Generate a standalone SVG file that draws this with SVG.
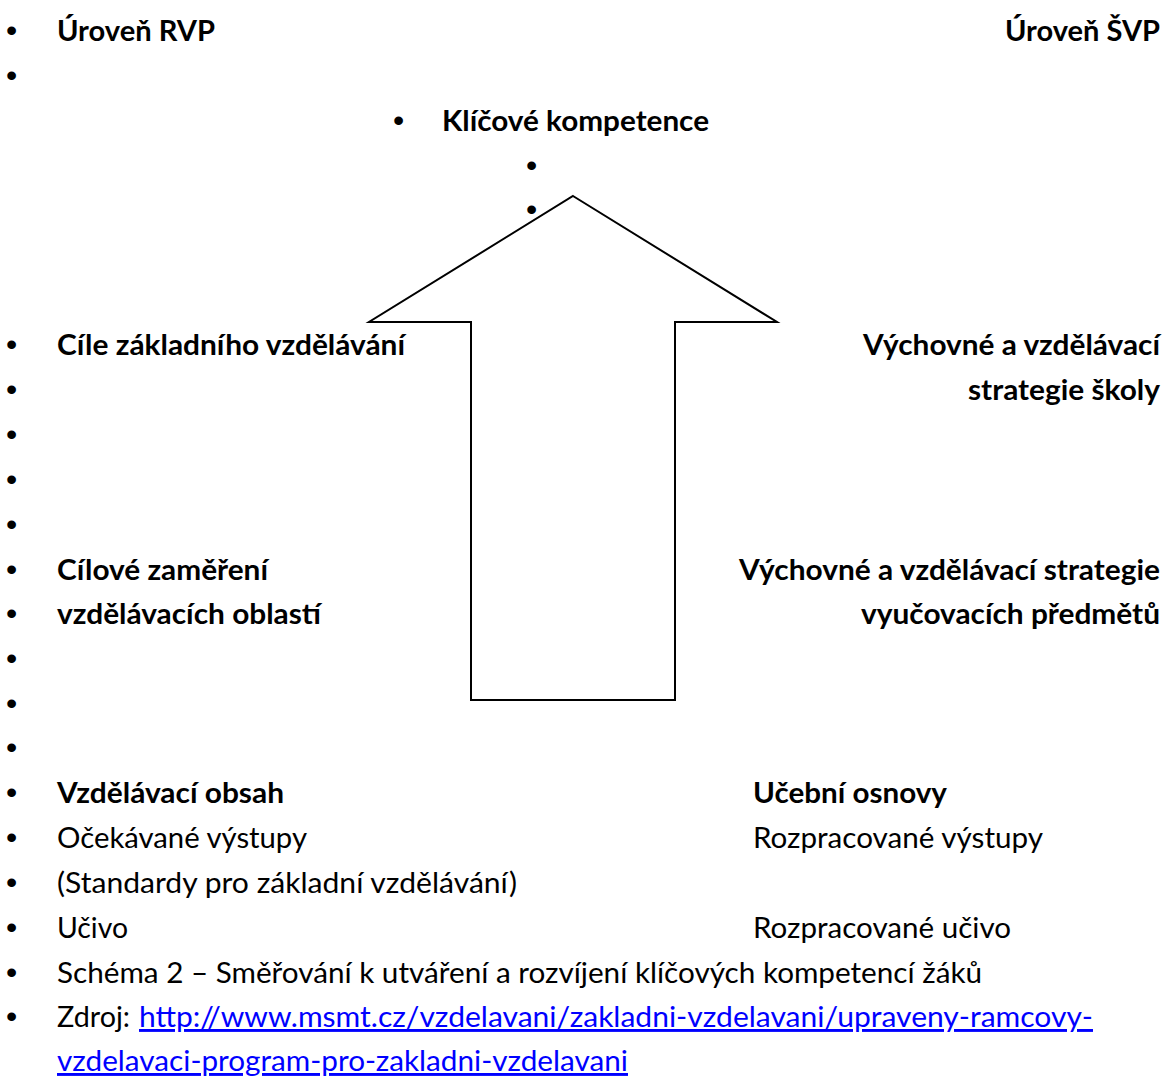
<svg xmlns="http://www.w3.org/2000/svg" width="1165" height="1076" viewBox="0 0 1165 1076">
<style>
text{font-family:Lato,"Open Sans","Liberation Sans",sans-serif;font-size:29px;fill:#000}
.b{font-weight:bold}
.r{text-anchor:end}
.bu{font-family:"Liberation Sans",Arial,sans-serif;font-size:32px}
.lk{fill:#0000FF;text-decoration:underline}
.arrow{fill:#fff;stroke:#000;stroke-width:2;stroke-linejoin:miter}
</style>
<rect width="1165" height="1076" fill="#fff"/>
<g id="connectors">
<polygon class="arrow" points="573,196 777,322 675,322 675,700 471,700 471,322 369,322"/>
</g>
<g id="bullets">
<text class="bu" x="6" y="41">•</text>
<text class="bu" x="6" y="86">•</text>
<text class="bu" x="393" y="131">•</text>
<text class="bu" x="526" y="176">•</text>
<text class="bu" x="526" y="220">•</text>
<text class="bu" x="6" y="355">•</text>
<text class="bu" x="6" y="400">•</text>
<text class="bu" x="6" y="445">•</text>
<text class="bu" x="6" y="490">•</text>
<text class="bu" x="6" y="535">•</text>
<text class="bu" x="6" y="580">•</text>
<text class="bu" x="6" y="624">•</text>
<text class="bu" x="6" y="669">•</text>
<text class="bu" x="6" y="714">•</text>
<text class="bu" x="6" y="758">•</text>
<text class="bu" x="6" y="803">•</text>
<text class="bu" x="6" y="848">•</text>
<text class="bu" x="6" y="893">•</text>
<text class="bu" x="6" y="938">•</text>
<text class="bu" x="6" y="983">•</text>
<text class="bu" x="6" y="1027">•</text>
</g>
<g id="uroven-rvp"><text class="b" x="57" y="41" textLength="158" lengthAdjust="spacingAndGlyphs">Úroveň RVP</text></g>
<g id="uroven-svp"><text class="b r" x="1160" y="41" textLength="155" lengthAdjust="spacingAndGlyphs">Úroveň ŠVP</text></g>
<g id="klicove-kompetence"><text class="b" x="442" y="131" textLength="267" lengthAdjust="spacingAndGlyphs">Klíčové kompetence</text></g>
<g id="cile-zakladniho"><text class="b" x="57" y="355" textLength="348" lengthAdjust="spacingAndGlyphs">Cíle základního vzdělávání</text></g>
<g id="strategie-skoly">
<text class="b r" x="1160" y="355" textLength="297" lengthAdjust="spacingAndGlyphs">Výchovné a vzdělávací</text>
<text class="b r" x="1160" y="400" textLength="192" lengthAdjust="spacingAndGlyphs">strategie školy</text>
</g>
<g id="cilove-zamereni">
<text class="b" x="57" y="580" textLength="211" lengthAdjust="spacingAndGlyphs">Cílové zaměření</text>
<text class="b" x="57" y="624" textLength="264" lengthAdjust="spacingAndGlyphs">vzdělávacích oblastí</text>
</g>
<g id="strategie-predmetu">
<text class="b r" x="1160" y="580" textLength="421" lengthAdjust="spacingAndGlyphs">Výchovné a vzdělávací strategie</text>
<text class="b r" x="1160" y="624" textLength="299" lengthAdjust="spacingAndGlyphs">vyučovacích předmětů</text>
</g>
<g id="vzdelavaci-obsah">
<text class="b" x="57" y="803" textLength="227" lengthAdjust="spacingAndGlyphs">Vzdělávací obsah</text>
<text x="57" y="848" textLength="250" lengthAdjust="spacingAndGlyphs">Očekávané výstupy</text>
<text x="57" y="893" textLength="460" lengthAdjust="spacingAndGlyphs">(Standardy pro základní vzdělávání)</text>
<text x="57" y="938" textLength="71" lengthAdjust="spacingAndGlyphs">Učivo</text>
</g>
<g id="ucebni-osnovy">
<text class="b" x="753" y="803" textLength="194" lengthAdjust="spacingAndGlyphs">Učební osnovy</text>
<text x="753" y="848" textLength="290" lengthAdjust="spacingAndGlyphs">Rozpracované výstupy</text>
<text x="753" y="938" textLength="258" lengthAdjust="spacingAndGlyphs">Rozpracované učivo</text>
</g>
<g id="caption">
<text x="57" y="983" textLength="925" lengthAdjust="spacingAndGlyphs">Schéma 2 – Směřování k utváření a rozvíjení klíčových kompetencí žáků</text>
<text x="57" y="1027" textLength="73" lengthAdjust="spacingAndGlyphs">Zdroj:</text>
<text class="lk" x="139" y="1027" textLength="954" lengthAdjust="spacingAndGlyphs">http://www.msmt.cz/vzdelavani/zakladni-vzdelavani/upraveny-ramcovy-</text>
<text class="lk" x="57" y="1071" textLength="571" lengthAdjust="spacingAndGlyphs">vzdelavaci-program-pro-zakladni-vzdelavani</text>
</g>
</svg>
